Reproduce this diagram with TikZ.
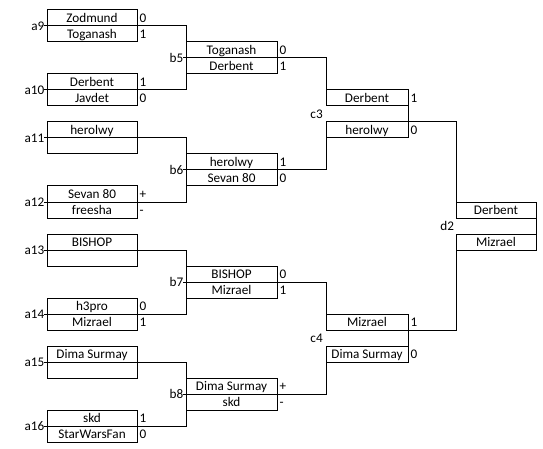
\documentclass[tikz,border=0pt]{standalone}
\usepackage{fontspec}
\setmainfont{Carlito}
\usetikzlibrary{calc}
\newcommand\duo[9]{%
  \node[cell, minimum width=#5] (#1t) at (#2,#3) {#6};
  \node[cell, minimum width=#5] (#1b) at (#2,#4) {#7};
  \node[score] (#1ts) at ($(#1t.east)+(2.5,0)$) {#8};
  \node[score] (#1bs) at ($(#1b.east)+(2.5,0)$) {#9};
}
\begin{document}
\begin{tikzpicture}[x=1pt,y=-1pt,
  txt/.style={inner sep=0pt, outer sep=0pt, text height=11pt, text depth=1.6pt, font=\fontsize{13.2}{16}\selectfont, text=black},
  cell/.style={txt, draw=black, line width=1pt, minimum height=16pt},
  score/.style={txt, anchor=west},
  lbl/.style={txt, anchor=east},
  wire/.style={draw=black, line width=1pt}]
\useasboundingbox (0,0) rectangle (543,449);
% round a
\duo{a9}{92}{18}{34}{90pt}{Zodmund}{Toganash}{0}{1}
\duo{a10}{92}{82}{98}{90pt}{Derbent}{Javdet}{1}{0}
\duo{a11}{92}{130}{146}{90pt}{herolwy}{}{}{}
\duo{a12}{92}{194}{210}{90pt}{Sevan 80}{freesha}{+}{-}
\duo{a13}{92}{242}{258}{90pt}{BISHOP}{}{}{}
\duo{a14}{92}{306}{322}{90pt}{h3pro}{Mizrael}{0}{1}
\duo{a15}{92}{354}{370}{90pt}{Dima Surmay}{}{}{}
\duo{a16}{92}{418}{434}{90pt}{skd}{StarWarsFan}{1}{0}
% round b
\duo{b5}{231.5}{50}{66}{91pt}{Toganash}{Derbent}{0}{1}
\duo{b6}{231.5}{162}{178}{91pt}{herolwy}{Sevan 80}{1}{0}
\duo{b7}{231.5}{274}{290}{91pt}{BISHOP}{Mizrael}{0}{1}
\duo{b8}{231.5}{386}{402}{91pt}{Dima Surmay}{skd}{+}{-}
% round c
\duo{c3}{367}{98}{130}{82pt}{Derbent}{herolwy}{1}{0}
\duo{c4}{367}{322}{354}{82pt}{Mizrael}{Dima Surmay}{1}{0}
% round d
\duo{d2}{496}{210}{242}{80pt}{Derbent}{Mizrael}{}{}
% labels with ticks
\foreach \m in {a9,a10,a11,a12,a13,a14,a15,a16,b5,b6,b7,b8}{
  \node[lbl] (l\m) at ($(\m t.south west)+(-2.7,0)$) {\m};
  \draw[wire] (l\m.east) -- (\m t.south west);
}
\foreach \m/\dx in {c3/-3.3,c4/-3.3,d2/-2}{
  \node[lbl] (l\m) at ($(\m t.south west)!0.5!(\m b.north west)+(\dx,0)$) {\m};
  \draw[wire] (\m t.south east) -- (\m b.north east);
}
% a -> b
\foreach \u/\v/\w in {a9/a10/b5,a11/a12/b6,a13/a14/b7,a15/a16/b8}{
  \draw[wire] (\u t.south east) -- (\u t.south east -| \w t.west) -- (\v t.south east -| \w t.west) -- (\v t.south east);
}
% b -> c
\draw[wire] (b5t.south east) -| (c3t.north west);
\draw[wire] (b6t.south east) -| (c3b.south west);
\draw[wire] (b7t.south east) -| (c4t.north west);
\draw[wire] (b8t.south east) -| (c4b.south west);
% c -> d
\draw[wire] (c3b.north east) -| (d2t.north west);
\draw[wire] (c4t.south east) -| (d2b.south west);
\end{tikzpicture}
\end{document}
